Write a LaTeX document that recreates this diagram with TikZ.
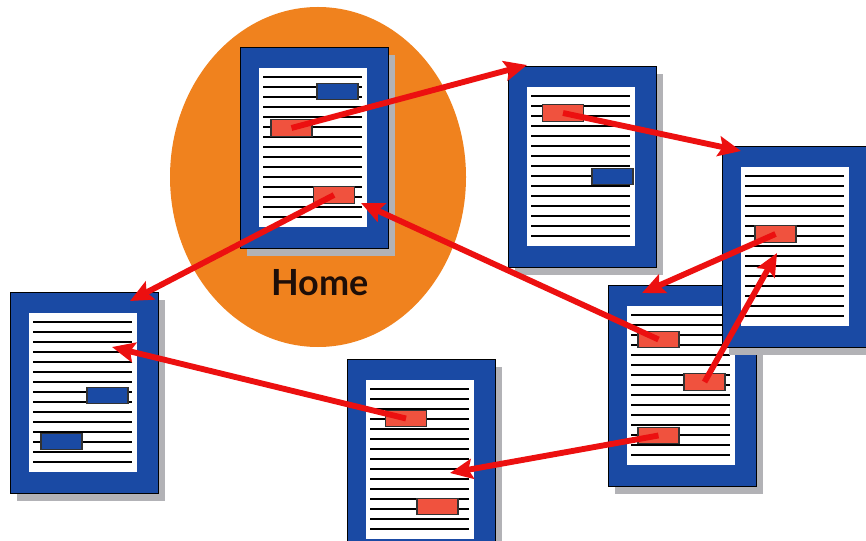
\documentclass[tikz,border=0pt]{standalone}
\usepackage{fontspec}
\setmainfont{Lato}
\usetikzlibrary{arrows.meta,shapes.geometric}
\definecolor{orangeF}{RGB}{240,130,30}
\definecolor{blueP}{RGB}{26,74,164}
\definecolor{redA}{RGB}{236,16,16}
\definecolor{redB}{RGB}{240,82,62}
\definecolor{shadowG}{RGB}{178,178,182}
\definecolor{homeT}{RGB}{30,14,8}
\tikzset{
  pagebox/.style={draw=black, line width=0.6pt, fill=blueP, inner sep=0pt, anchor=north west,
    minimum width=111pt, minimum height=150.75pt},
  textline/.style={draw=black, line width=1.1pt},
  redbox/.style={draw=black!80, line width=0.8pt, fill=redB, inner sep=0pt,
    minimum width=30.75pt, minimum height=12.5pt},
  bluebox/.style={draw=black!80, line width=0.8pt, fill=blueP, inner sep=0pt,
    minimum width=30.75pt, minimum height=12.5pt},
  link/.style={draw=redA, line width=4.4pt,
    -{Stealth[length=17pt,width=15pt,inset=3pt]}},
  homelabel/.style={text=homeT, font=\bfseries\fontsize{27}{30}\selectfont, inner sep=0pt}
}
\newcommand\docpage[3]{%
  \begin{scope}[shift={(#2,#3)}]
    \fill[shadowG] (7,8) rectangle (155,209);
    \node[pagebox] (#1) at (0,0) {};
    \fill[white] (19,21) rectangle (127,180);
    \foreach \k in {0,...,14} \draw[textline] (23,{30+10*\k}) -- (122,{30+10*\k});
  \end{scope}}
\begin{document}
\begin{tikzpicture}[x=0.75pt,y=-0.75pt]
\useasboundingbox (0,0) rectangle (866,541);
\clip (0,0) rectangle (866,541);
% home ellipse
\node[draw=none, fill=orangeF, ellipse, minimum width=222pt, minimum height=255pt, inner sep=0pt]
  (homezone) at (318,177) {};
% pages
\docpage{pageE}{10}{292}
\docpage{pageF}{347}{359}
\docpage{pageA}{240}{47}
\docpage{pageB}{508}{66}
\docpage{pageD}{608}{285}
\docpage{pageC}{722}{146}
% label
\node[homelabel] (home) at (320,283) {Home};
% boxes
\node[bluebox] (ab) at (337.5,91.5) {};
\node[redbox] (a1) at (291.5,128) {};
\node[redbox] (a2) at (334,195) {};
\node[redbox] (b1) at (563,113) {};
\node[bluebox] (bb) at (612.5,176.5) {};
\node[redbox] (c1) at (775.5,234) {};
\node[redbox] (d1) at (658.5,339.5) {};
\node[redbox] (d2) at (704.5,382) {};
\node[redbox] (d3) at (658.5,435.5) {};
\node[bluebox] (e1) at (107.5,395.5) {};
\node[bluebox] (e2) at (61.5,441.5) {};
\node[redbox] (f1) at (406,418.5) {};
\node[redbox] (f2) at (437.5,506.5) {};
% arrow tips
\coordinate (tB) at (527,65);
\coordinate (tC) at (741,151);
\coordinate (tD) at (642,293);
\coordinate (tCin) at (777,253);
\coordinate (tA) at (361,203);
\coordinate (tE) at (130,301);
\coordinate (tEin) at (112,347);
\coordinate (tF) at (450,473);
% arrows
\draw[link] (a1.center) -- (tB);
\draw[link] (b1.center) -- (tC);
\draw[link] (c1.center) -- (tD);
\draw[link] (d2.center) -- (tCin);
\draw[link] (d1.center) -- (tA);
\draw[link] (a2.center) -- (tE);
\draw[link] (f1.center) -- (tEin);
\draw[link] (d3.center) -- (tF);
\end{tikzpicture}
\end{document}
